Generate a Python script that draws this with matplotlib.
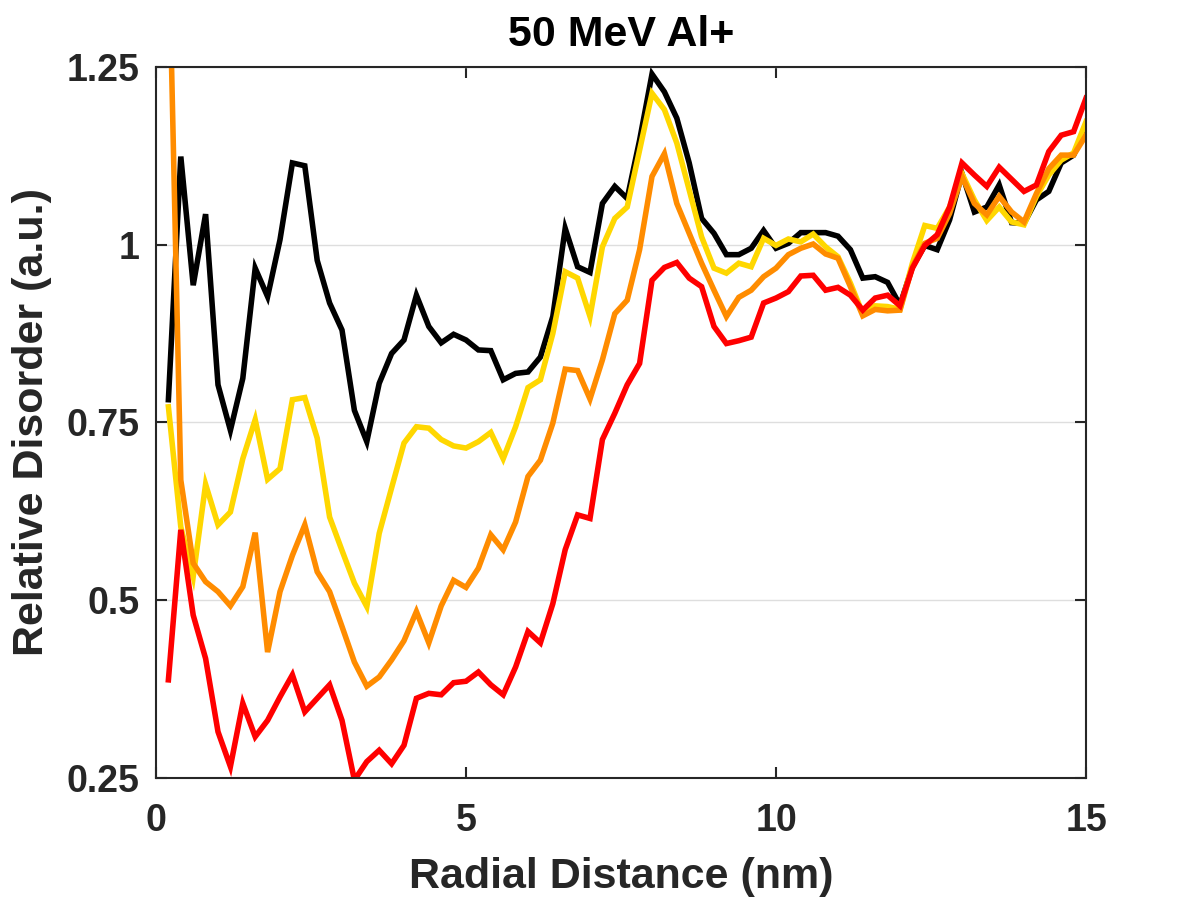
import numpy as np
import matplotlib
matplotlib.use('Agg')
from matplotlib import pyplot as plt
from matplotlib.ticker import FormatStrFormatter

plt.rcParams['font.family'] = ['Liberation Sans', 'DejaVu Sans']
plt.rcParams['font.weight'] = 'bold'

# radial bins, 0.2 nm apart
r = np.round(np.arange(0.2, 15.01, 0.2), 1)

black = [0.782, 1.124, 0.943, 1.043, 0.803, 0.739, 0.812, 0.967, 0.927, 1.007,
         1.115, 1.111, 0.978, 0.918, 0.880, 0.767, 0.723, 0.805, 0.847, 0.866,
         0.929, 0.885, 0.862, 0.874, 0.866, 0.852, 0.851, 0.810, 0.819, 0.821,
         0.842, 0.899, 1.023, 0.969, 0.961, 1.058, 1.082, 1.065, 1.147, 1.240,
         1.215, 1.178, 1.115, 1.037, 1.016, 0.986, 0.986, 0.995, 1.020, 0.995,
         1.002, 1.017, 1.017, 1.017, 1.012, 0.993, 0.953, 0.955, 0.947, 0.915,
         0.969, 0.999, 0.993, 1.035, 1.100, 1.046, 1.053, 1.084, 1.031, 1.030,
         1.063, 1.075, 1.115, 1.126, 1.166]

yellow = [0.772, 0.603, 0.533, 0.663, 0.606, 0.624, 0.699, 0.754, 0.670, 0.685,
          0.782, 0.785, 0.728, 0.617, 0.570, 0.524, 0.491, 0.594, 0.658, 0.721,
          0.744, 0.742, 0.726, 0.717, 0.714, 0.723, 0.736, 0.699, 0.744, 0.799,
          0.810, 0.875, 0.962, 0.953, 0.899, 0.997, 1.037, 1.053, 1.133, 1.213,
          1.190, 1.143, 1.077, 1.011, 0.967, 0.960, 0.974, 0.969, 1.009, 0.999,
          1.008, 1.004, 1.015, 0.997, 0.983, 0.946, 0.903, 0.914, 0.913, 0.909,
          0.974, 1.027, 1.023, 1.053, 1.100, 1.063, 1.034, 1.053, 1.032, 1.028,
          1.068, 1.098, 1.119, 1.129, 1.173]

orange = [1.450, 0.669, 0.552, 0.526, 0.512, 0.492, 0.519, 0.595, 0.427, 0.512,
          0.563, 0.606, 0.540, 0.512, 0.463, 0.413, 0.379, 0.392, 0.416, 0.443,
          0.484, 0.440, 0.492, 0.528, 0.518, 0.545, 0.592, 0.571, 0.610, 0.674,
          0.697, 0.749, 0.825, 0.823, 0.783, 0.838, 0.903, 0.922, 0.993, 1.096,
          1.128, 1.058, 1.016, 0.974, 0.936, 0.899, 0.926, 0.936, 0.955, 0.967,
          0.986, 0.995, 1.001, 0.987, 0.981, 0.941, 0.900, 0.909, 0.907, 0.908,
          0.969, 1.002, 1.009, 1.044, 1.096, 1.058, 1.042, 1.068, 1.046, 1.032,
          1.072, 1.107, 1.126, 1.126, 1.154]

red = [0.388, 0.599, 0.479, 0.418, 0.315, 0.266, 0.355, 0.308, 0.331, 0.364,
       0.395, 0.343, 0.362, 0.381, 0.331, 0.247, 0.273, 0.289, 0.270, 0.296,
       0.362, 0.369, 0.367, 0.384, 0.386, 0.399, 0.381, 0.367, 0.406, 0.456,
       0.440, 0.495, 0.571, 0.620, 0.615, 0.726, 0.763, 0.803, 0.833, 0.950,
       0.968, 0.975, 0.953, 0.941, 0.885, 0.861, 0.865, 0.870, 0.918, 0.925,
       0.934, 0.956, 0.957, 0.936, 0.940, 0.929, 0.908, 0.925, 0.929, 0.914,
       0.967, 0.999, 1.014, 1.053, 1.115, 1.098, 1.082, 1.109, 1.092, 1.075,
       1.084, 1.131, 1.154, 1.159, 1.206]

series = [black, yellow, orange, red]
colors = ['#000000', '#FFD700', '#FF8C00', '#FF0000']

xticks = [0, 5, 10, 15]
yticks = [0.25, 0.5, 0.75, 1.0, 1.25]

fig = plt.figure(figsize=(12, 9), dpi=100)
ax = fig.add_axes([0.13, 0.1356, 0.775, 0.79])

for vals, c in zip(series, colors):
    ax.plot(r, vals, color=c, linewidth=4.0, solid_joinstyle='miter')

ax.set_xlim(0, 15)
ax.set_ylim(0.25, 1.25)
ax.set_xticks(xticks)
ax.set_yticks(yticks)
ax.yaxis.set_major_formatter(FormatStrFormatter('%g'))

ax.grid(axis='y', color='#dedede', linewidth=1.0)
ax.set_axisbelow(True)

grey = '#262626'
for s in ax.spines.values():
    s.set_linewidth(1.5)
    s.set_color(grey)
ax.tick_params(direction='in', length=8, width=1.5, colors=grey,
               top=True, right=True, labelsize=27)
ax.tick_params(axis='x', pad=18)
ax.tick_params(axis='y', pad=12)
for lab in ax.get_xticklabels() + ax.get_yticklabels():
    lab.set_fontweight('bold')

ax.set_xlabel('Radial Distance (nm)', fontsize=31, fontweight='bold',
              color=grey, labelpad=13)
ax.set_ylabel('Relative Disorder (a.u.)', fontsize=31, fontweight='bold',
              color=grey, labelpad=10)
ax.set_title('50 MeV Al+', fontsize=31, fontweight='bold', color='black', pad=15)

fig.savefig('out.png', dpi=100)
